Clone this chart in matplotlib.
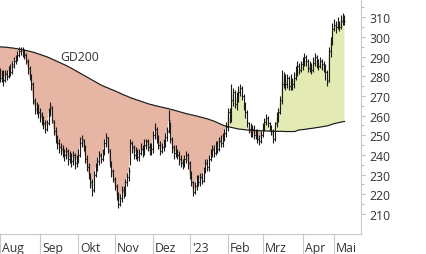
import matplotlib
matplotlib.use("Agg")
import matplotlib.pyplot as plt
import numpy as np
import pandas as pd

plt.rcParams['font.family'] = ['Open Sans', 'DejaVu Sans']

# ---------------- data ----------------
close_aug = [279,280,278,281,280,283,282,286,288,289,291,293,294,292,291,288,284,280,276,268,264,265,262]
open_aug  = [281,279,281,278,281,280,284,282,285,288,289,291,293,294,292,291,288,284,279,276,267,263,265]
high_aug  = [284,283,283,283,283,285,286,288,290,291,293,295,295,295,294,292,289,285,281,277,269,267,266]
low_aug   = [277,277,275,277,278,279,280,281,284,286,288,290,291,290,289,286,281,278,273,266,261,261,259]

close_sep = [260,258,256,253,256,262,265,258,252,249,246,244,243,241,240,242,238,239,237,240,236,238]
open_sep  = [262,261,258,256,253,256,262,264,257,252,249,246,244,243,241,240,242,238,239,237,240,236]
high_sep  = [264,262,260,258,258,264,267,265,258,254,250,248,246,245,243,244,243,242,241,242,241,240]
low_sep   = [257,255,253,251,252,255,260,256,250,246,243,241,240,239,237,238,235,236,234,235,233,234]

close_oct = [240,246,248,244,238,234,230,226,222,230,234,237,240,238,241,246,249,243,236,232,228]
open_oct  = [238,240,246,247,244,238,234,230,226,222,230,234,237,240,238,241,246,249,242,236,232]
high_oct  = [243,249,250,248,245,240,236,231,228,232,236,239,242,241,243,248,251,249,243,237,233]
low_oct   = [236,239,244,242,236,232,228,223,219,221,229,232,235,236,237,240,244,241,234,229,226]

close_nov = [224,220,215,218,222,220,226,229,232,246,244,240,242,239,241,243,242,245,247,244,242,243]
open_nov  = [228,224,220,215,218,222,220,226,229,236,246,244,240,242,239,241,243,242,245,247,244,242]
high_nov  = [229,225,221,220,224,224,228,231,234,248,247,245,244,243,243,246,245,248,248,248,246,246]
low_nov   = [222,217,213,214,216,218,219,224,227,235,241,238,238,237,237,240,239,240,243,242,240,240]

close_dec = [250,253,248,245,242,244,246,249,252,258,248,244,241,242,240,238,236,235,238,240,236]
open_dec  = [243,250,253,248,245,242,244,246,249,252,256,248,244,241,242,240,238,236,235,238,240]
high_dec  = [252,256,254,250,247,246,248,251,254,263,257,249,245,245,243,242,240,238,240,242,241]
low_dec   = [241,248,246,243,240,241,242,244,247,251,246,241,238,239,238,235,234,233,234,236,233]

close_jan = [230,226,221,224,228,226,229,227,232,236,234,238,240,243,241,245,243,247,246,249,251,254]
open_jan  = [236,230,226,221,224,228,226,229,227,232,236,234,238,240,243,241,245,243,247,246,249,251]
high_jan  = [237,232,227,226,230,230,231,231,234,238,238,240,243,245,245,247,247,249,250,251,253,257]
low_jan   = [228,224,219,220,222,224,224,225,226,231,232,232,237,239,239,240,241,242,244,244,247,249]

close_feb = [262,258,268,272,266,269,272,274,270,266,262,256,253,251,253,250,251,248,247,250]
open_feb  = [254,262,258,268,272,266,269,272,274,270,266,262,256,253,251,253,250,251,248,247]
high_feb  = [264,264,276,274,273,272,275,276,275,271,267,263,257,256,255,255,253,253,250,252]
low_feb   = [252,256,257,265,264,263,267,270,268,263,259,254,251,249,249,248,248,246,245,246]

close_mar = [254,257,259,256,254,252,248,256,259,262,268,276,280,276,279,275,278,276,279,282,285,283,286]
open_mar  = [250,254,257,259,256,254,252,248,256,259,262,268,276,280,276,279,275,278,276,279,282,285,283]
high_mar  = [256,259,261,260,257,255,253,257,262,264,270,283,282,281,281,280,281,279,282,285,288,287,288]
low_mar   = [249,252,255,254,252,250,246,247,254,257,261,266,274,273,274,273,273,273,274,278,280,281,282]

close_apr = [287,290,288,284,286,283,287,290,288,285,288,286,285,282,277,293,298,304]
open_apr  = [286,287,290,288,284,286,283,287,290,288,285,288,286,285,282,278,293,298]
high_apr  = [290,292,291,289,288,287,290,292,291,289,290,289,288,286,283,295,300,307]
low_apr   = [283,285,285,282,282,281,282,285,284,283,284,283,282,278,275,277,290,296]

close_may = [306,305,307,305,308,310,308]
open_may  = [304,306,305,307,305,308,310]
high_may  = [309,308,310,308,311,312,311]
low_may   = [303,302,304,303,304,306,306]

gd200_aug = [295.0,294.9,294.9,294.8,294.7,294.6,294.5,294.4,294.3,294.1,294.0,293.8,293.7,293.5,293.3,293.1,292.9,292.7,292.5,292.3,292.0,291.7,291.4]
gd200_sep = [291.1,290.8,290.5,290.2,289.9,289.5,289.1,288.7,288.3,287.9,287.5,287.1,286.7,286.3,285.9,285.5,285.0,284.6,284.1,283.6,283.1,282.6]
gd200_oct = [282.1,281.6,281.1,280.6,280.1,279.6,279.1,278.6,278.1,277.6,277.1,276.6,276.1,275.6,275.2,274.8,274.4,274.1,273.7,273.3,273.0]
gd200_nov = [272.6,272.2,271.8,271.4,271.0,270.6,270.2,269.9,269.5,269.1,268.8,268.5,268.2,267.9,267.6,267.3,267.0,266.7,266.4,266.1,265.8,265.6]
gd200_dec = [265.4,265.1,264.9,264.7,264.5,264.3,264.1,263.9,263.7,263.5,263.2,263.0,262.8,262.5,262.3,262.0,261.8,261.5,261.3,261.0,260.8]
gd200_jan = [260.6,260.4,260.2,260.0,259.8,259.6,259.3,259.1,258.9,258.6,258.4,258.1,257.8,257.5,257.2,256.8,256.4,256.0,255.6,255.2,254.9,254.6]
gd200_feb = [254.4,254.2,254.0,253.8,253.6,253.4,253.2,253.1,253.0,252.9,252.8,252.7,252.6,252.6,252.5,252.5,252.4,252.4,252.3,252.3]
gd200_mar = [252.3,252.2,252.2,252.2,252.1,252.1,252.1,252.0,252.0,252.0,252.0,252.0,252.0,251.9,251.9,251.9,251.9,251.9,251.9,252.0,252.5,252.7,252.8]
gd200_apr = [252.9,253.0,253.1,253.3,253.4,253.5,253.6,253.8,253.9,254.0,254.2,254.3,254.5,254.6,254.8,255.0,255.3,255.6]
gd200_may = [255.9,256.1,256.3,256.5,256.7,256.9,257.0]

holidays = ["2022-12-26", "2023-04-07", "2023-04-10", "2023-05-01"]
month_labels = ["Aug", "Sep", "Okt", "Nov", "Dez", "'23", "Feb", "Mrz", "Apr", "Mai"]
y_ticks = [210, 220, 230, 240, 250, 260, 270, 280, 290, 300, 310]
series_label = "GD200"

# ---------------- assemble ----------------
close = np.array(close_aug + close_sep + close_oct + close_nov + close_dec + close_jan + close_feb + close_mar + close_apr + close_may, float)
opn = np.array(open_aug + open_sep + open_oct + open_nov + open_dec + open_jan + open_feb + open_mar + open_apr + open_may, float)
high = np.array(high_aug + high_sep + high_oct + high_nov + high_dec + high_jan + high_feb + high_mar + high_apr + high_may, float)
low = np.array(low_aug + low_sep + low_oct + low_nov + low_dec + low_jan + low_feb + low_mar + low_apr + low_may, float)
gd200 = np.array(gd200_aug + gd200_sep + gd200_oct + gd200_nov + gd200_dec + gd200_jan + gd200_feb + gd200_mar + gd200_apr + gd200_may, float)

days = pd.bdate_range("2022-08-01", "2023-05-31")
days = days[~days.isin(pd.to_datetime(holidays))][:len(close)]
idx = np.arange(len(close))
month_key = days.year * 12 + days.month
month_starts = [i for i in idx if i == 0 or month_key[i] != month_key[i - 1]]

# ---------------- figure ----------------
W, H, DPI = 426, 255, 100
fig = plt.figure(figsize=(W / DPI, H / DPI), dpi=DPI)
ax = fig.add_axes([0, 20 / H, 361 / W, 235 / H])

salmon = '#e6b5a3'
yellow = '#e4eab3'
ax.fill_between(idx, close, gd200, where=close < gd200, interpolate=True,
                color=salmon, lw=0, zorder=1)
ax.fill_between(idx, close, gd200, where=close >= gd200, interpolate=True,
                color=yellow, lw=0, zorder=1)
ax.plot(idx, gd200, color='#1a1a1a', lw=0.85, zorder=2)

bar_c = '#1a1a1a'
ax.vlines(idx, low, high, color=bar_c, lw=0.8, zorder=3)
ax.hlines(opn, idx - 0.5, idx, color=bar_c, lw=0.8, zorder=3)
ax.hlines(close, idx, idx + 0.5, color=bar_c, lw=0.8, zorder=3)

ax.text(45.8, 290.3, series_label, ha='center', va='center', fontsize=8.8,
        color='#333333', zorder=4)

ax.set_xlim(1.3, 207.5)
ax.set_ylim(199.8, 319.3)

# axes styling
for s in ['left', 'top']:
    ax.spines[s].set_visible(False)
ax.spines['right'].set_color('#c8c8c8')
ax.spines['bottom'].set_color('#c8c8c8')
ax.spines['right'].set_linewidth(0.8)
ax.spines['bottom'].set_linewidth(0.8)

ax.yaxis.tick_right()
ax.set_yticks(y_ticks)
ax.set_yticklabels([str(v) for v in y_ticks])
ax.set_yticks([v + 5 for v in [205] + y_ticks], minor=True)
ax.tick_params(axis='y', which='major', length=3, width=0.8, color='#c0c0c0',
               pad=3, labelsize=8.8, labelcolor='#333333')
ax.tick_params(axis='y', which='minor', length=2.5, width=0.8, color='#c0c0c0')

ax.set_xticks(month_starts)
ax.set_xticklabels([''] * len(month_starts))
ax.tick_params(axis='x', which='major', length=14.5, width=0.8, color='#c8c8c8',
               direction='out')
for i, lbl in zip(month_starts, month_labels):
    ax.annotate(lbl, xy=(i, 0), xycoords=('data', 'axes fraction'),
                xytext=(2, -17.5), textcoords='offset pixels',
                ha='left', va='baseline', fontsize=8.8, color='#333333',
                annotation_clip=False)

fig.savefig("out.png", dpi=DPI)
